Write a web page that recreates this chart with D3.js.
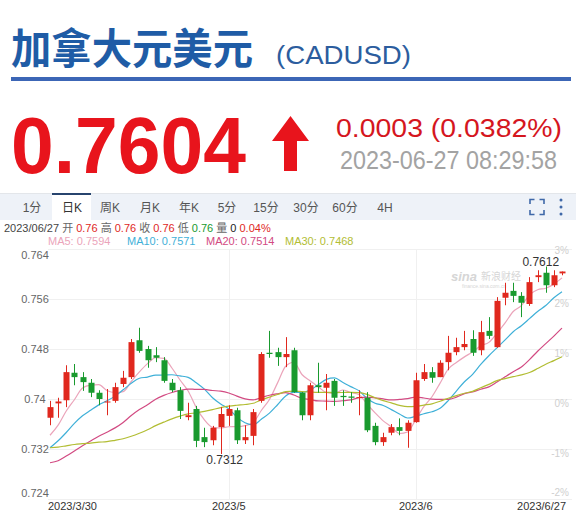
<!DOCTYPE html>
<html>
<head>
<meta charset="utf-8" />
<title>CADUSD</title>
<script src="https://cdn.jsdelivr.net/npm/d3@7"></script>
<style>
  body { margin: 0; background: #fff; }
  text { font-family: "Liberation Sans", Arial, "Noto Sans CJK SC", sans-serif; }
</style>
</head>
<body>
<script>
// daily candles, 2023/3/30 .. 2023/6/27 (weekdays)
var opens = [0.7370,0.7393,0.7398,0.7442,0.7435,0.7426,0.7410,0.7395,0.7397,0.7424,
  0.7435,0.7494,0.7480,0.7470,0.7462,0.7426,0.7414,0.7371,0.7384,0.7339,
  0.7334,0.7355,0.7373,0.7382,0.7334,0.7341,0.7397,0.7474,0.7475,0.7467,
  0.7478,0.7410,0.7374,0.7422,0.7418,0.7429,0.7405,0.7404,0.7402,0.7402,
  0.7357,0.7331,0.7346,0.7355,0.7349,0.7363,0.7432,0.7443,0.7435,0.7459,
  0.7475,0.7483,0.7496,0.7478,0.7509,0.7483,0.7562,0.7573,0.7565,0.7552,
  0.7595,0.7602,0.7582,0.7601]
var highs = [0.7397,0.7402,0.7454,0.7456,0.7443,0.7432,0.7414,0.7416,0.7426,0.7445,
  0.7496,0.7514,0.7485,0.7483,0.7467,0.7432,0.7419,0.7394,0.7389,0.7354,
  0.7357,0.7387,0.7390,0.7386,0.7358,0.7384,0.7475,0.7509,0.7482,0.7499,
  0.7482,0.7411,0.7426,0.7458,0.7440,0.7432,0.7414,0.7411,0.7414,0.7411,
  0.7362,0.7346,0.7360,0.7369,0.7366,0.7442,0.7456,0.7451,0.7462,0.7501,
  0.7498,0.7509,0.7510,0.7525,0.7531,0.7563,0.7586,0.7586,0.7571,0.7595,
  0.7606,0.7612,0.7606,0.7604]
var lows = [0.7358,0.7370,0.7387,0.7422,0.7413,0.7403,0.7390,0.7374,0.7394,0.7419,
  0.7432,0.7474,0.7450,0.7459,0.7426,0.7411,0.7368,0.7366,0.7323,0.7323,
  0.7326,0.7312,0.7357,0.7328,0.7328,0.7326,0.7394,0.7466,0.7453,0.7451,
  0.7410,0.7366,0.7366,0.7410,0.7382,0.7389,0.7389,0.7394,0.7374,0.7347,
  0.7326,0.7325,0.7342,0.7342,0.7322,0.7362,0.7429,0.7426,0.7435,0.7446,
  0.7470,0.7478,0.7469,0.7470,0.7496,0.7482,0.7550,0.7555,0.7531,0.7549,
  0.7587,0.7570,0.7579,0.7598]
var closes = [0.7387,0.7396,0.7443,0.7435,0.7427,0.7410,0.7400,0.7396,0.7419,0.7434,
  0.7491,0.7477,0.7462,0.7466,0.7429,0.7414,0.7381,0.7374,0.7333,0.7331,
  0.7354,0.7376,0.7384,0.7334,0.7339,0.7379,0.7472,0.7472,0.7467,0.7472,
  0.7411,0.7374,0.7422,0.7419,0.7426,0.7402,0.7403,0.7402,0.7403,0.7350,
  0.7331,0.7339,0.7355,0.7349,0.7362,0.7430,0.7443,0.7434,0.7458,0.7474,
  0.7483,0.7488,0.7474,0.7507,0.7501,0.7557,0.7570,0.7565,0.7554,0.7587,
  0.7598,0.7582,0.7598,0.7604]
// closes before the window, only used to seed the moving averages
var priorCloses = [0.7365,0.7380,0.7372,0.7390,0.7378,0.7360,0.7368,0.7355,0.7362,0.7370,
  0.7330,0.7295,0.7270,0.7262,0.7255,0.7250,0.7268,0.7280,0.7260,0.7270,
  0.7285,0.7310,0.7290,0.7305,0.7320,0.7315,0.7330,0.7345,0.7333]

var priceTicks = [0.724, 0.732, 0.74, 0.748, 0.756, 0.764]
var pctTicks = ['-2%', '-1%', '0%', '1%', '2%', '3%']
var dateTicks = ['2023/3/30', '2023/5', '2023/6', '2023/6/27']
var tabs = ['1分', '日K', '周K', '月K', '年K', '5分', '15分', '30分', '60分', '4H']
var maPeriods = [5, 10, 20, 30]
var maValues = ['0.7594', '0.7571', '0.7514', '0.7468']
var maColors = ['#eba4ba', '#3fb0d8', '#d24a82', '#b2bd33']

var up = '#e0281e', down = '#199a2e'

var dates = d3.timeDay.range(new Date(2023, 2, 30), new Date(2023, 5, 28))
  .filter(function(d) { return d.getDay() !== 0 && d.getDay() !== 6 })
var candles = dates.map(function(d, i) {
  return { date: d, i: i, o: opens[i], h: highs[i], l: lows[i], c: closes[i] }
})

var svg = d3.select('body').append('svg')
  .attr('width', 576).attr('height', 525)

// ---- header
svg.append('text')
  .attr('x', 11).attr('y', 64)
  .attr('font-weight', 700).attr('font-size', 42)
  .attr('fill', '#1f5ca6')
  .attr('textLength', 242).attr('lengthAdjust', 'spacingAndGlyphs')
  .style('font-family', '"Noto Sans CJK SC", sans-serif')
  .text('加拿大元美元')
svg.append('text')
  .attr('x', 276).attr('y', 64)
  .attr('font-size', 26).attr('fill', '#2c5d9e')
  .attr('textLength', 135).attr('lengthAdjust', 'spacingAndGlyphs')
  .text('(CADUSD)')
svg.append('rect')
  .attr('x', 11).attr('y', 77).attr('width', 560).attr('height', 4)
  .attr('fill', '#3c66b6')

svg.append('text')
  .attr('x', 11).attr('y', 173)
  .attr('font-size', 80).attr('font-weight', 700).attr('fill', '#e8141c')
  .attr('textLength', 235).attr('lengthAdjust', 'spacingAndGlyphs')
  .text(closes[closes.length - 1].toFixed(4))
svg.append('path')
  .attr('d', 'M290.5,116 L309,141 L297,141 L297,171 L284,171 L284,141 L272,141 Z')
  .attr('fill', '#e8141c')
svg.append('text')
  .attr('x', 336).attr('y', 137)
  .attr('font-size', 26).attr('fill', '#d5161e')
  .attr('textLength', 226).attr('lengthAdjust', 'spacingAndGlyphs')
  .text('0.0003 (0.0382%)')
svg.append('text')
  .attr('x', 340).attr('y', 169)
  .attr('font-size', 25).attr('fill', '#a3a3a3')
  .attr('textLength', 217).attr('lengthAdjust', 'spacingAndGlyphs')
  .text('2023-06-27 08:29:58')

// ---- toolbar
svg.append('rect')
  .attr('x', 0).attr('y', 194).attr('width', 576).attr('height', 26)
  .attr('fill', '#eef2f8')
svg.append('line')
  .attr('x1', 0).attr('x2', 576).attr('y1', 193.5).attr('y2', 193.5)
  .attr('stroke', '#e3e6ea')
svg.append('rect')
  .attr('x', 52).attr('y', 194).attr('width', 39).attr('height', 26)
  .attr('fill', '#fff')
svg.append('rect')
  .attr('x', 52).attr('y', 193).attr('width', 39).attr('height', 2)
  .attr('fill', '#27446e')
var tabX = [32, 72, 110, 150, 189, 227, 266, 306, 345, 385]
svg.selectAll('.tab').data(tabs).enter().append('text')
  .attr('class', 'tab')
  .attr('x', function(d, i) { return tabX[i] })
  .attr('y', 212)
  .attr('text-anchor', 'middle')
  .attr('font-size', 12)
  .attr('fill', function(d, i) { return i === 1 ? '#333' : '#555' })
  .text(function(d) { return d })
// fullscreen + menu icons
var fs = svg.append('g').attr('stroke', '#3f68a8').attr('stroke-width', 1.6).attr('fill', 'none')
fs.append('path').attr('d', 'M530,204 v-4.5 h4.5 M539.5,199.5 h4.5 v4.5 M544,210 v4.5 h-4.5 M534.5,214.5 h-4.5 v-4.5')
svg.selectAll('.dot').data([0, 1, 2]).enter().append('circle')
  .attr('cx', 561).attr('cy', function(d) { return 200 + d * 7 })
  .attr('r', 1.5).attr('fill', '#3f68a8')

// ---- info rows
var info = svg.append('text').attr('x', 4).attr('y', 232).attr('font-size', 11)
var parts = [
  ['2023/06/27 ', '#444'], ['开 ', '#666'], ['0.76 ', up],
  ['高 ', '#666'], ['0.76 ', up], ['收 ', '#666'], ['0.76 ', up],
  ['低 ', '#666'], ['0.76 ', down], ['量 ', '#666'], ['0 ', '#222'], ['0.04%', up]
]
info.selectAll('tspan').data(parts).enter().append('tspan')
  .attr('fill', function(d) { return d[1] })
  .text(function(d) { return d[0] })

var maX = [48, 127, 206, 285]
svg.selectAll('.malab').data(maPeriods).enter().append('text')
  .attr('class', 'malab')
  .attr('x', function(d, i) { return maX[i] })
  .attr('y', 245).attr('font-size', 11)
  .attr('fill', function(d, i) { return maColors[i] })
  .text(function(d, i) { return 'MA' + d + ': ' + maValues[i] })

// ---- chart
var x = d3.scalePoint().domain(d3.range(candles.length)).range([50, 562])
var y = d3.scaleLinear().domain([0.724, 0.764]).range([499, 249])

var grid = svg.append('g')
grid.selectAll('.hg').data(priceTicks).enter().append('line')
  .attr('x1', 48).attr('x2', 572)
  .attr('y1', function(d) { return Math.round(y(d)) + 0.5 })
  .attr('y2', function(d) { return Math.round(y(d)) + 0.5 })
  .attr('stroke', '#f0f0f0')

function dateIndex(str) {
  var p = str.split('/').map(Number)
  var t = p.length === 3 ? new Date(p[0], p[1] - 1, p[2]) : new Date(p[0], p[1] - 1, 1)
  return d3.bisector(function(c) { return c.date }).left(candles, t)
}
var tickIdx = dateTicks.map(dateIndex)

grid.selectAll('.vg').data(tickIdx.slice(1, 3)).enter().append('line')
  .attr('x1', function(d) { return Math.round(x(d)) + 0.5 })
  .attr('x2', function(d) { return Math.round(x(d)) + 0.5 })
  .attr('y1', 249).attr('y2', 500)
  .attr('stroke', '#f0f0f0')

svg.selectAll('.ylab').data(priceTicks).enter().append('text')
  .attr('x', 35)
  .attr('y', function(d, i) { return y(d) + 4 + (i === 0 ? -6 : i === priceTicks.length - 1 ? 6 : 0) })
  .attr('text-anchor', 'middle').attr('font-size', 11).attr('fill', '#666')
  .text(function(d) { return String(+d.toFixed(3)) })

svg.selectAll('.plab').data(pctTicks).enter().append('text')
  .attr('x', 569)
  .attr('y', function(d, i) { return y(priceTicks[i]) + 8 + (i === 0 ? -11 : i === pctTicks.length - 1 ? -3 : 0) })
  .attr('text-anchor', 'end').attr('font-size', 10).attr('fill', '#cfcfcf')
  .text(function(d) { return d })

svg.selectAll('.xlab').data(dateTicks).enter().append('text')
  .attr('x', function(d, i) {
    if (i === 0) return x(tickIdx[i]) - 2
    if (i === dateTicks.length - 1) return 566
    return x(tickIdx[i])
  })
  .attr('y', 510)
  .attr('text-anchor', function(d, i) { return i === 0 ? 'start' : i === dateTicks.length - 1 ? 'end' : 'middle' })
  .attr('font-size', 11).attr('fill', '#333')
  .text(function(d) { return d })

// watermark
var wm = svg.append('g').attr('fill', '#d6d6d6')
wm.append('text').attr('x', 451).attr('y', 281).attr('font-size', 13)
  .attr('font-style', 'italic').attr('font-weight', 700).text('sina')
wm.append('text').attr('x', 481).attr('y', 280).attr('font-size', 10)
  .style('font-family', '"Noto Sans CJK SC", sans-serif').text('新浪财经')
wm.append('text').attr('x', 462).attr('y', 288).attr('font-size', 5).text('finance.sina.com.cn')

// moving averages
var allCloses = priorCloses.concat(closes)
var off = priorCloses.length
maPeriods.forEach(function(n, k) {
  var vals = closes.map(function(c, i) {
    return d3.mean(allCloses.slice(off + i - n + 1, off + i + 1))
  })
  svg.append('path')
    .datum(vals)
    .attr('fill', 'none')
    .attr('stroke', maColors[k])
    .attr('stroke-width', 1.2)
    .attr('d', d3.line().x(function(d, i) { return x(i) }).y(function(d) { return y(d) }).curve(d3.curveMonotoneX))
})

// candles
var g = svg.append('g')
var cs = g.selectAll('.c').data(candles).enter().append('g')
  .attr('fill', function(d) { return d.c >= d.o ? up : down })
  .attr('stroke', function(d) { return d.c >= d.o ? up : down })
cs.append('line')
  .attr('x1', function(d) { return Math.round(x(d.i)) + 0.5 })
  .attr('x2', function(d) { return Math.round(x(d.i)) + 0.5 })
  .attr('y1', function(d) { return y(d.h) })
  .attr('y2', function(d) { return y(d.l) })
  .attr('stroke-width', 1)
cs.append('rect')
  .attr('x', function(d) { return Math.round(x(d.i)) - 2.5 })
  .attr('width', 6)
  .attr('y', function(d) { return y(Math.max(d.o, d.c)) })
  .attr('height', function(d) { return Math.max(1, Math.abs(y(d.o) - y(d.c))) })
  .attr('stroke', 'none')

// extreme labels
var hi = d3.greatest(candles, function(d) { return d.h })
var lo = d3.least(candles, function(d) { return d.l })
svg.append('text').attr('x', x(hi.i) - 5).attr('y', y(hi.h) - 1)
  .attr('text-anchor', 'middle').attr('font-size', 12).attr('fill', '#333')
  .text(hi.h.toFixed(4))
svg.append('text').attr('x', x(lo.i) + 4).attr('y', y(lo.l) + 10)
  .attr('text-anchor', 'middle').attr('font-size', 12).attr('fill', '#333')
  .text(lo.l.toFixed(4))
</script>
</body>
</html>
